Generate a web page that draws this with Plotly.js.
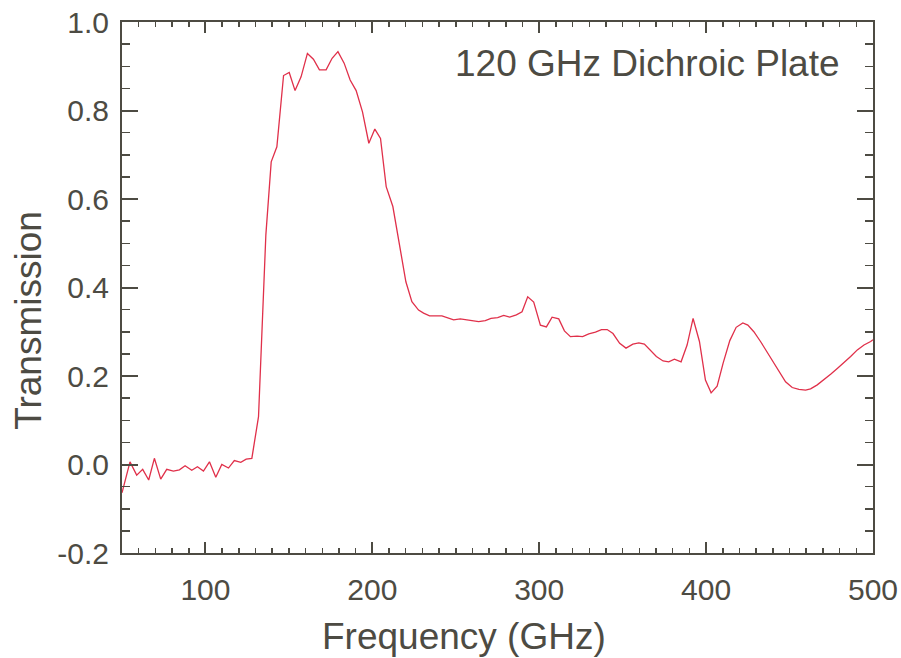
<!DOCTYPE html>
<html>
<head>
<meta charset="utf-8">
<script src="https://cdn.plot.ly/plotly-3.0.1.min.js"></script>
<style>html,body{margin:0;padding:0;background:#fff;}#chart{width:901px;height:658px;}</style>
</head>
<body>
<div id="chart"></div>
<script>
const freqGHz = [50, 54.8, 58.8, 62.4, 66, 69.4, 73.2, 76.8, 80.8, 84.4, 87.8, 91.8, 95.2, 98.8, 102.4, 106.2, 109.8, 113.8, 117.3, 121.2, 124.4, 127.8, 131.8, 136.2, 139.4, 142.8, 146.8, 150.2, 153.7, 157.3, 161.1, 164.7, 168.3, 172.3, 175.9, 179.4, 183.1, 186.7, 190.3, 194.1, 197.9, 201.5, 204.9, 208.3, 212.3, 216, 220.1, 223.7, 227.7, 230.7, 234.3, 241.7, 248.7, 252.7, 263.7, 267.7, 271.1, 275.1, 278.7, 282.3, 286.3, 289.7, 293.1, 296.7, 300.7, 304.3, 307.7, 311.7, 315.1, 318.7, 322.7, 326, 329.7, 333.7, 337.3, 340.7, 344.2, 348.2, 352, 356.1, 359.7, 363, 366.6, 370.2, 374.2, 377.6, 381, 385, 388.6, 392.2, 396, 399.6, 403, 406.6, 410.2, 414.2, 418, 422, 425, 428.6, 432.6, 436.6, 440.6, 444.6, 447.6, 451.6, 455.6, 459.6, 462.6, 466.6, 470.6, 474.6, 478.6, 482.6, 486.6, 490.6, 494.6, 498.6, 500];
const transmission = [-0.064, 0.006, -0.024, -0.011, -0.035, 0.014, -0.033, -0.011, -0.015, -0.012, -0.003, -0.013, -0.005, -0.015, 0.006, -0.029, 0.000, -0.008, 0.009, 0.005, 0.012, 0.014, 0.108, 0.519, 0.684, 0.718, 0.879, 0.886, 0.845, 0.876, 0.929, 0.916, 0.892, 0.892, 0.918, 0.933, 0.907, 0.869, 0.845, 0.797, 0.726, 0.758, 0.737, 0.628, 0.583, 0.50, 0.413, 0.368, 0.349, 0.342, 0.336, 0.336, 0.327, 0.329, 0.323, 0.325, 0.330, 0.332, 0.337, 0.333, 0.338, 0.345, 0.379, 0.367, 0.315, 0.311, 0.333, 0.329, 0.302, 0.289, 0.290, 0.289, 0.295, 0.299, 0.305, 0.305, 0.296, 0.274, 0.263, 0.272, 0.275, 0.272, 0.259, 0.244, 0.234, 0.232, 0.238, 0.232, 0.270, 0.330, 0.278, 0.191, 0.162, 0.177, 0.229, 0.280, 0.310, 0.320, 0.315, 0.300, 0.278, 0.253, 0.229, 0.206, 0.187, 0.174, 0.170, 0.168, 0.171, 0.180, 0.191, 0.204, 0.217, 0.230, 0.244, 0.259, 0.270, 0.278, 0.282];
const chartTitle = "120 GHz Dichroic Plate";
const xTitle = "Frequency (GHz)";
const yTitle = "Transmission";

const axisColor = "#4d4b43";
const textColor = "#4d4b43";
const fontFam = "Liberation Sans, Arial, sans-serif";

const trace = {
  x: freqGHz, y: transmission, type: "scatter", mode: "lines",
  line: {color: "#e0304a", width: 1.3}, hoverinfo: "skip"
};

const layout = {
  width: 901, height: 658,
  margin: {l: 122, r: 28, t: 22, b: 105},
  paper_bgcolor: "#fff", plot_bgcolor: "#fff",
  showlegend: false,
  font: {family: fontFam, color: textColor},
  xaxis: {
    range: [50, 500], tick0: 0, dtick: 100, tickmode: "linear",
    showgrid: false, zeroline: false,
    showline: true, linecolor: axisColor, linewidth: 2, mirror: "allticks",
    ticks: "inside", ticklen: 11, tickwidth: 2, tickcolor: axisColor,
    minor: {dtick: 10, ticks: "inside", ticklen: 5, tickwidth: 1.5, tickcolor: axisColor, showgrid: false},
    tickfont: {size: 30, color: textColor, family: fontFam},
    ticklabelstandoff: 9
  },
  yaxis: {
    range: [-0.2, 1.0], tick0: 0, dtick: 0.2, tickmode: "linear", tickformat: ".1f",
    labelalias: {"\u22120.2": "-0.2"},
    showgrid: false, zeroline: false,
    showline: true, linecolor: axisColor, linewidth: 2, mirror: "allticks",
    ticks: "inside", ticklen: 16, tickwidth: 2, tickcolor: axisColor,
    minor: {dtick: 0.05, ticks: "inside", ticklen: 8, tickwidth: 1.5, tickcolor: axisColor, showgrid: false},
    tickfont: {size: 30, color: textColor, family: fontFam},
    ticklabelstandoff: 5
  },
  annotations: [
    {
      text: chartTitle, xref: "paper", yref: "paper", x: 0.959, y: 0.921,
      xanchor: "right", yanchor: "middle", showarrow: false,
      font: {size: 37, color: textColor, family: fontFam}
    },
    {
      text: xTitle, xref: "paper", yref: "paper", x: 0.455, y: -0.158,
      xanchor: "center", yanchor: "middle", showarrow: false,
      font: {size: 37, color: textColor, family: fontFam}
    },
    {
      text: yTitle, xref: "paper", yref: "paper", x: -0.124, y: 0.439,
      xanchor: "center", yanchor: "middle", showarrow: false, textangle: -90,
      font: {size: 37, color: textColor, family: fontFam}
    }
  ]
};

Plotly.newPlot("chart", [trace], layout, {displayModeBar: false, staticPlot: true});
</script>
</body>
</html>
